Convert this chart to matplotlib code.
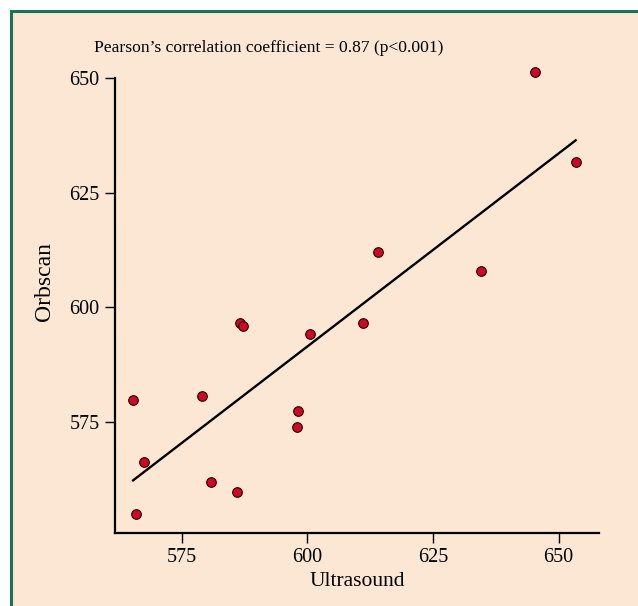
import numpy as np
import matplotlib
matplotlib.use("Agg")
from matplotlib import pyplot as plt
from matplotlib.patches import Rectangle

# valores
ultrasound = [565.3, 565.9, 567.4, 579.1, 580.9, 585.9, 586.6, 587.1,
              597.9, 598.1, 600.5, 611.1, 645.3, 653.4, 614.1, 634.6]
orbscan = [579.8, 554.9, 566.2, 580.7, 562.0, 559.8, 596.6, 596.0,
           574.0, 577.5, 594.2, 596.7, 651.4, 631.7, 612.0, 607.9]
xticks = [575, 600, 625, 650]
yticks = [575, 600, 625, 650]
titulo = "Pearson\u2019s correlation coefficient = 0.87 (p<0.001)"

plt.rcParams["font.family"] = ["Liberation Serif", "DejaVu Serif"]

W, H = 638, 606
fig = plt.figure(figsize=(W / 100, H / 100), dpi=100)
fig.patch.set_facecolor("white")

# fondo con borde verde (arriba e izquierda)
fondo = "#FCE7D5"
verde = "#1B7356"
fig.patches.append(Rectangle((11 / W, -0.05), 1.1, (H - 11) / H + 0.05,
                             transform=fig.transFigure, facecolor=fondo,
                             edgecolor=verde, linewidth=2.2, zorder=-5))

ax = fig.add_axes([115 / W, 1 - 532.7 / H, (599.3 - 115) / W, (532.7 - 78) / H])
ax.set_zorder(2)
ax.set_facecolor("none")

x = np.array(ultrasound)
y = np.array(orbscan)
m, b = np.polyfit(x, y, 1)
xs = np.array([x.min(), x.max()])
ax.plot(xs, m * xs + b, color="black", lw=1.7, zorder=2)
ax.scatter(x, y, s=48, color="#CC0A27", edgecolor="#2a0000", linewidth=0.8,
           zorder=3, clip_on=False)

ax.set_xlim(561.7, 658.1)
ax.set_ylim(550.9, 650)
ax.set_xticks(xticks)
ax.set_yticks(yticks)
ax.tick_params(direction="out", length=7, width=1, labelsize=14.5, pad=4)

for s in ["top", "right"]:
    ax.spines[s].set_visible(False)
for s in ["left", "bottom"]:
    ax.spines[s].set_linewidth(1.6)

fig.text(268.5 / W, 1 - 48 / H, titulo, ha="center", va="center", fontsize=12.6)
fig.text(357 / W, 1 - 581 / H, "Ultrasound", ha="center", va="center", fontsize=15.5)
fig.text(45 / W, 1 - 282 / H, "Orbscan", ha="center", va="center",
         rotation=90, fontsize=17)

fig.savefig("out.png", dpi=100, facecolor=fig.get_facecolor())
